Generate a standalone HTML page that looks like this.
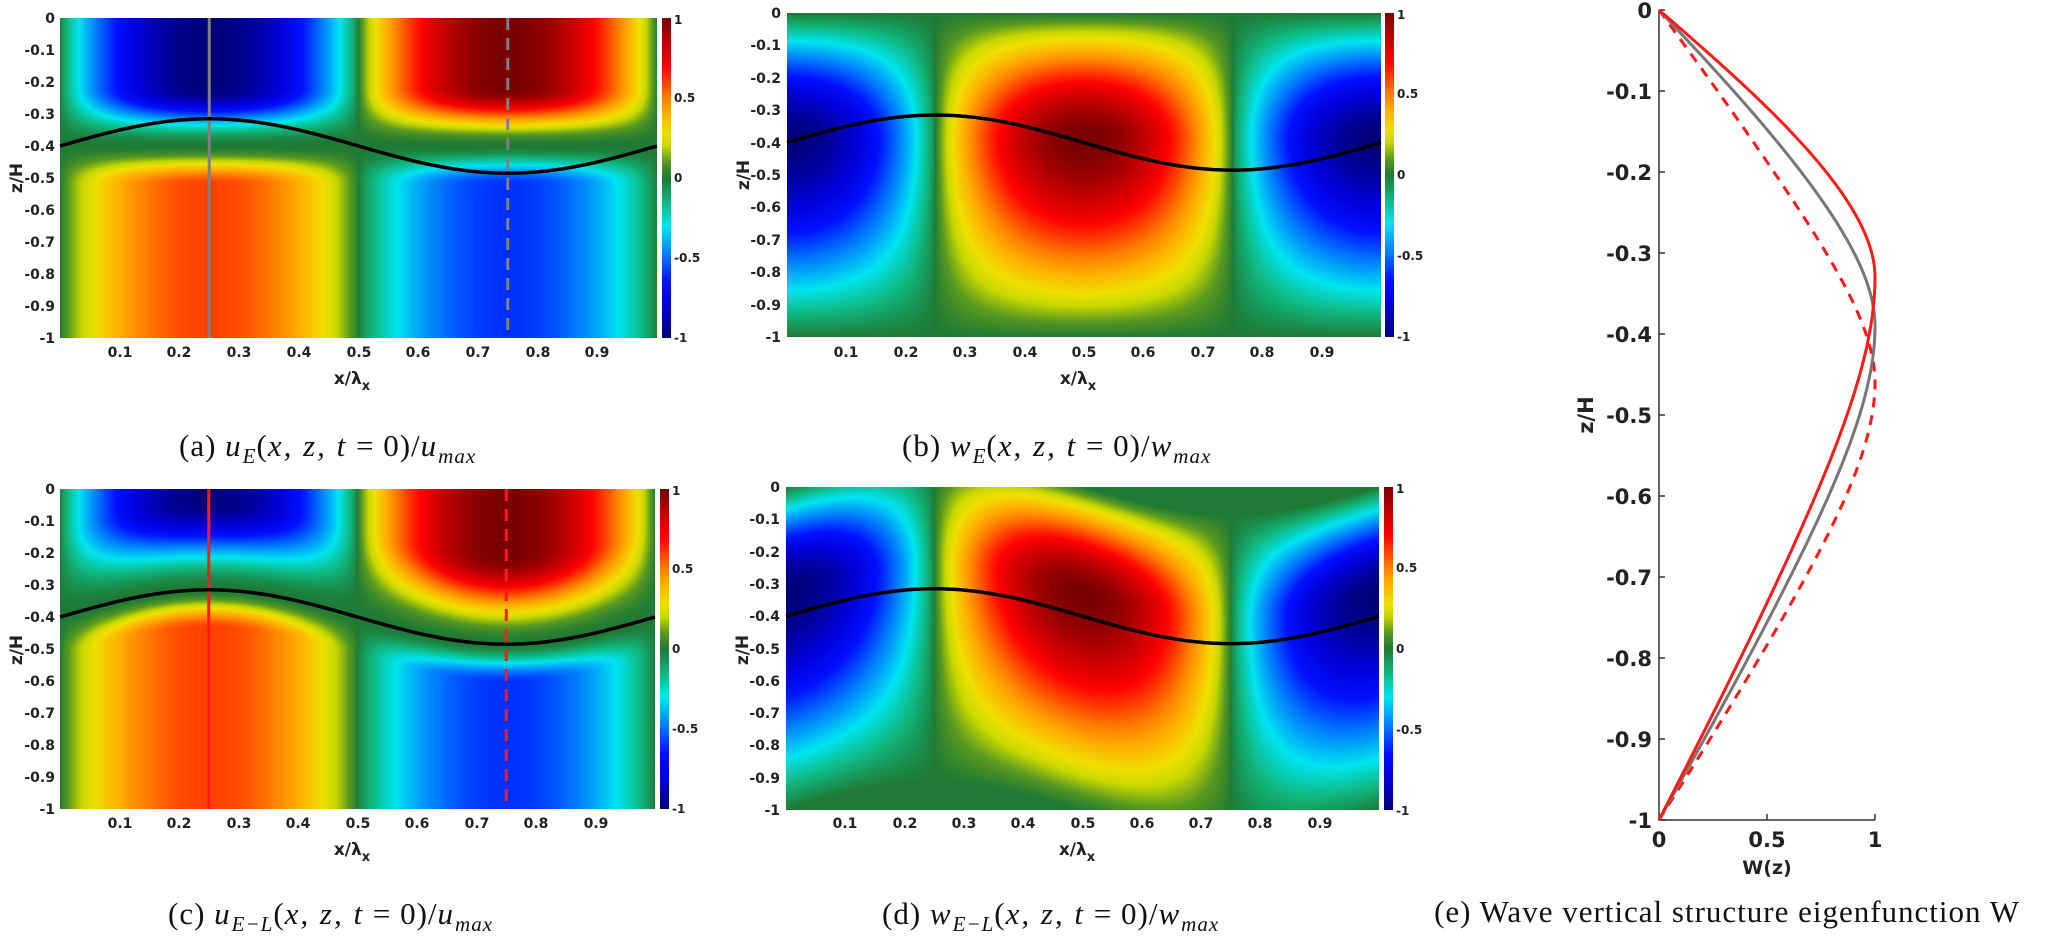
<!DOCTYPE html>
<html><head><meta charset="utf-8">
<style>
html,body{margin:0;padding:0;background:#fff;}
body{width:2067px;height:934px;position:relative;overflow:hidden;font-family:"DejaVu Sans","Liberation Sans",sans-serif;}
canvas{position:absolute;}
svg{position:absolute;left:0;top:0;}
.cap{position:absolute;font-family:"Liberation Serif","DejaVu Serif",serif;font-size:31px;white-space:nowrap;color:#111;letter-spacing:1px;}
.cap i{font-style:italic;letter-spacing:2px;}
.cap sub{font-size:21px;font-style:italic;vertical-align:-7px;line-height:0;letter-spacing:1px;}
</style></head><body>
<canvas id="cA" style="left:60px;top:18px" width="597" height="320"></canvas>
<canvas id="bA" style="left:662px;top:18px" width="9" height="320"></canvas>
<canvas id="cB" style="left:787px;top:13px" width="594" height="324"></canvas>
<canvas id="bB" style="left:1385px;top:13px" width="9" height="324"></canvas>
<canvas id="cC" style="left:60px;top:489px" width="595" height="320"></canvas>
<canvas id="bC" style="left:660px;top:489px" width="9" height="320"></canvas>
<canvas id="cD" style="left:786px;top:487px" width="593" height="323"></canvas>
<canvas id="bD" style="left:1384px;top:487px" width="9" height="323"></canvas>

<svg width="2067" height="934" xmlns="http://www.w3.org/2000/svg" font-family="DejaVu Sans, Liberation Sans, sans-serif" font-weight="bold" fill="#222">
<g id="lines"></g>
<g font-size="14" text-anchor="end">
<text x="55" y="23">0</text><text x="55" y="55">-0.1</text><text x="55" y="87">-0.2</text><text x="55" y="119">-0.3</text><text x="55" y="151">-0.4</text><text x="55" y="183">-0.5</text><text x="55" y="215">-0.6</text><text x="55" y="247">-0.7</text><text x="55" y="279">-0.8</text><text x="55" y="311">-0.9</text><text x="55" y="343">-1</text>
</g>
<g font-size="14" text-anchor="middle">
<text x="120" y="357">0.1</text><text x="179" y="357">0.2</text><text x="239" y="357">0.3</text><text x="299" y="357">0.4</text><text x="359" y="357">0.5</text><text x="418" y="357">0.6</text><text x="478" y="357">0.7</text><text x="538" y="357">0.8</text><text x="597" y="357">0.9</text>
</g>
<text x="352" y="384" font-size="17" text-anchor="middle">x/λ<tspan font-size="13" dy="6">x</tspan></text>
<text transform="translate(22,178) rotate(-90)" font-size="17" text-anchor="middle">z/H</text>
<g font-size="12"><text x="674" y="24">1</text><text x="674" y="102">0.5</text><text x="674" y="182">0</text><text x="674" y="262">-0.5</text><text x="674" y="342">-1</text></g>

<g font-size="14" text-anchor="end">
<text x="781" y="18">0</text><text x="781" y="50">-0.1</text><text x="781" y="83">-0.2</text><text x="781" y="115">-0.3</text><text x="781" y="148">-0.4</text><text x="781" y="180">-0.5</text><text x="781" y="212">-0.6</text><text x="781" y="245">-0.7</text><text x="781" y="277">-0.8</text><text x="781" y="310">-0.9</text><text x="781" y="342">-1</text>
</g>
<g font-size="14" text-anchor="middle">
<text x="846" y="357">0.1</text><text x="906" y="357">0.2</text><text x="965" y="357">0.3</text><text x="1025" y="357">0.4</text><text x="1084" y="357">0.5</text><text x="1143" y="357">0.6</text><text x="1203" y="357">0.7</text><text x="1262" y="357">0.8</text><text x="1322" y="357">0.9</text>
</g>
<text x="1078" y="384" font-size="17" text-anchor="middle">x/λ<tspan font-size="13" dy="6">x</tspan></text>
<text transform="translate(749,175) rotate(-90)" font-size="17" text-anchor="middle">z/H</text>
<g font-size="12"><text x="1397" y="19">1</text><text x="1397" y="98">0.5</text><text x="1397" y="179">0</text><text x="1397" y="260">-0.5</text><text x="1397" y="341">-1</text></g>

<g font-size="14" text-anchor="end">
<text x="55" y="494">0</text><text x="55" y="526">-0.1</text><text x="55" y="558">-0.2</text><text x="55" y="590">-0.3</text><text x="55" y="622">-0.4</text><text x="55" y="654">-0.5</text><text x="55" y="686">-0.6</text><text x="55" y="718">-0.7</text><text x="55" y="750">-0.8</text><text x="55" y="782">-0.9</text><text x="55" y="814">-1</text>
</g>
<g font-size="14" text-anchor="middle">
<text x="120" y="828">0.1</text><text x="179" y="828">0.2</text><text x="239" y="828">0.3</text><text x="298" y="828">0.4</text><text x="358" y="828">0.5</text><text x="417" y="828">0.6</text><text x="477" y="828">0.7</text><text x="536" y="828">0.8</text><text x="596" y="828">0.9</text>
</g>
<text x="352" y="855" font-size="17" text-anchor="middle">x/λ<tspan font-size="13" dy="6">x</tspan></text>
<text transform="translate(22,650) rotate(-90)" font-size="17" text-anchor="middle">z/H</text>
<g font-size="12"><text x="672" y="495">1</text><text x="672" y="573">0.5</text><text x="672" y="653">0</text><text x="672" y="733">-0.5</text><text x="672" y="813">-1</text></g>

<g font-size="14" text-anchor="end">
<text x="780" y="492">0</text><text x="780" y="524">-0.1</text><text x="780" y="557">-0.2</text><text x="780" y="589">-0.3</text><text x="780" y="621">-0.4</text><text x="780" y="654">-0.5</text><text x="780" y="686">-0.6</text><text x="780" y="718">-0.7</text><text x="780" y="750">-0.8</text><text x="780" y="783">-0.9</text><text x="780" y="815">-1</text>
</g>
<g font-size="14" text-anchor="middle">
<text x="845" y="828">0.1</text><text x="905" y="828">0.2</text><text x="964" y="828">0.3</text><text x="1023" y="828">0.4</text><text x="1083" y="828">0.5</text><text x="1142" y="828">0.6</text><text x="1201" y="828">0.7</text><text x="1260" y="828">0.8</text><text x="1320" y="828">0.9</text>
</g>
<text x="1077" y="855" font-size="17" text-anchor="middle">x/λ<tspan font-size="13" dy="6">x</tspan></text>
<text transform="translate(748,650) rotate(-90)" font-size="17" text-anchor="middle">z/H</text>
<g font-size="12"><text x="1396" y="493">1</text><text x="1396" y="572">0.5</text><text x="1396" y="653">0</text><text x="1396" y="734">-0.5</text><text x="1396" y="815">-1</text></g>

<g stroke="#333" stroke-width="1.5" fill="none">
<path d="M1659 10 V820 H1875"/>
<path d="M1659 10h6M1659 91h6M1659 172h6M1659 253h6M1659 334h6M1659 415h6M1659 496h6M1659 577h6M1659 658h6M1659 739h6M1659 820h6"/>
<path d="M1767 820v-6M1875 820v-6"/>
</g>
<g font-size="21" text-anchor="end">
<text x="1652" y="18">0</text><text x="1652" y="99">-0.1</text><text x="1652" y="180">-0.2</text><text x="1652" y="261">-0.3</text><text x="1652" y="342">-0.4</text><text x="1652" y="423">-0.5</text><text x="1652" y="504">-0.6</text><text x="1652" y="585">-0.7</text><text x="1652" y="666">-0.8</text><text x="1652" y="747">-0.9</text><text x="1652" y="828">-1</text>
</g>
<g font-size="21" text-anchor="middle">
<text x="1659" y="847">0</text><text x="1767" y="847">0.5</text><text x="1875" y="847">1</text>
</g>
<text x="1767" y="874" font-size="19" text-anchor="middle">W(z)</text>
<text transform="translate(1593,415) rotate(-90)" font-size="21" text-anchor="middle">z/H</text>
<g id="ecurves" fill="none"></g>
</svg>

<div class="cap" style="left:179px;top:428px">(a) <i>u</i><sub>E</sub>(<i>x, z, t</i> = 0)/<i>u</i><sub>max</sub></div>
<div class="cap" style="left:902px;top:428px">(b) <i>w</i><sub>E</sub>(<i>x, z, t</i> = 0)/<i>w</i><sub>max</sub></div>
<div class="cap" style="left:168px;top:896px">(c) <i>u</i><sub>E−L</sub>(<i>x, z, t</i> = 0)/<i>u</i><sub>max</sub></div>
<div class="cap" style="left:882px;top:896px">(d) <i>w</i><sub>E−L</sub>(<i>x, z, t</i> = 0)/<i>w</i><sub>max</sub></div>
<div class="cap" style="right:47px;top:894px">(e) Wave vertical structure eigenfunction W</div>

<script>
var stops=[[-1,[0,0,122]],[-0.8,[0,0,216]],[-0.65,[0,16,255]],[-0.5,[0,112,255]],[-0.3,[0,229,240]],[-0.15,[16,184,128]],[0,[31,122,53]],[0.1,[90,154,32]],[0.2,[200,216,0]],[0.28,[240,224,0]],[0.4,[255,176,0]],[0.5,[255,128,0]],[0.6,[255,64,0]],[0.7,[255,0,0]],[0.85,[192,0,0]],[1,[120,0,0]]];
function cmap(v){if(v<=-1)return stops[0][1];if(v>=1)return stops[stops.length-1][1];
for(var i=1;i<stops.length;i++){if(v<=stops[i][0]){var a=stops[i-1],b=stops[i],t=(v-a[0])/(b[0]-a[0]);return [a[1][0]+(b[1][0]-a[1][0])*t,a[1][1]+(b[1][1]-a[1][1])*t,a[1][2]+(b[1][2]-a[1][2])*t];}}}
function Wf(z,zp,a1,a2){var d=-z;if(d<=0)return 0;if(d>=1)return 0;
 var r,a;
 if(d<=zp){r=d/zp;a=a1;}else{r=(1-d)/(1-zp);a=a2;}
 var lin=r*(1-0.5*r*r*r*r)/(1-0.5); // smooth approach to peak
 lin=Math.min(lin, 1);
 var v=a*(r - 0.25*Math.pow(r,4)*0 ) ;
 var s=Math.sin(Math.PI/2*r);
 var blend=a*(1-Math.pow(r,3));
 return blend*r+(1-blend)*s;}
function Wg(z){return Wf(z,0.39,0.35,0.5);}
function Wr(z){return Wf(z,0.33,0.25,0.5);}
function Wd(z){return Wf(z,0.46,0.55,0.5);}
function sm(t){t=Math.max(0,Math.min(1,t));return t*t*(3-2*t);}
function U(z){var d=-z;
 if(d<0.22)return 1;
 if(d<0.40)return 1-sm((d-0.22)/0.18);
 if(d<0.52)return -0.6*sm((d-0.40)/0.12);
 return -0.6;}
function Uc(z){var d=-z;
 if(d<0.12)return 1;
 if(d<0.40)return 1-sm((d-0.12)/0.28);
 if(d<0.52)return -0.6*sm((d-0.40)/0.12);
 return -0.6;}
function sp(c,p){return (c<0?-1:1)*Math.pow(Math.abs(c),p);}
function eta(x){return 0.085*Math.sin(2*Math.PI*x);}
function fill(id,f){var c=document.getElementById(id),ctx=c.getContext('2d'),w=c.width,h=c.height,im=ctx.createImageData(w,h),d=im.data;
 for(var j=0;j<h;j++){var z=-(j+0.5)/h;for(var i=0;i<w;i++){var x=(i+0.5)/w;var col=cmap(f(x,z));var k=(j*w+i)*4;d[k]=col[0];d[k+1]=col[1];d[k+2]=col[2];d[k+3]=255;}}
 ctx.putImageData(im,0,0);}
function cbar(id){var c=document.getElementById(id),ctx=c.getContext('2d'),h=c.height;
 for(var j=0;j<h;j++){var col=cmap(1-2*(j+0.5)/h);ctx.fillStyle='rgb('+(col[0]|0)+','+(col[1]|0)+','+(col[2]|0)+')';ctx.fillRect(0,j,c.width,1);}}
var PW=0.75;
fill('cA',function(x,z){return -sp(Math.sin(2*Math.PI*x),PW)*U(z);});
fill('cB',function(x,z){return -sp(Math.cos(2*Math.PI*x),PW)*Wg(z);});
fill('cC',function(x,z){return -sp(Math.sin(2*Math.PI*x),PW)*Uc(z-eta(x));});
fill('cD',function(x,z){var zz=z-eta(x);if(zz>0)zz=0;if(zz<-1)zz=-1;return -sp(Math.cos(2*Math.PI*x),PW)*Wr(zz);});
['bA','bB','bC','bD'].forEach(cbar);

var NS='http://www.w3.org/2000/svg';
function path(parent,d,stroke,w,dash){var p=document.createElementNS(NS,'path');p.setAttribute('d',d);p.setAttribute('stroke',stroke);p.setAttribute('stroke-width',w);p.setAttribute('fill','none');if(dash)p.setAttribute('stroke-dasharray',dash);parent.appendChild(p);}
var L=document.getElementById('lines');
var P=[[60,18,597,320,'#808080'],[787,13,594,324,null],[60,489,595,320,'#ff1a1a'],[786,487,593,323,null]];
P.forEach(function(p){
 var x0=p[0],y0=p[1],w=p[2],h=p[3];
 if(p[4]){
  path(L,'M'+(x0+0.25*w)+' '+y0+'V'+(y0+h),p[4],3);
  path(L,'M'+(x0+0.75*w)+' '+y0+'V'+(y0+h),p[4],3,'12,8');
 }
 var d='';for(var i=0;i<=200;i++){var x=i/200;var z=-0.4+eta(x);d+=(i?'L':'M')+(x0+x*w).toFixed(1)+' '+(y0-z*h).toFixed(1);}
 path(L,d,'#000',3.5);
});
var E=document.getElementById('ecurves');
function ecurve(fn,col,dash){var d='';for(var i=0;i<=300;i++){var z=-i/300;d+=(i?'L':'M')+(1659+fn(z)*216).toFixed(1)+' '+(10-z*810).toFixed(1);}path(E,d,col,3,dash);}
ecurve(Wd,'#ff1a1a','10,8');
ecurve(Wg,'#777');
ecurve(Wr,'#ff1a1a');
</script>
</body></html>
